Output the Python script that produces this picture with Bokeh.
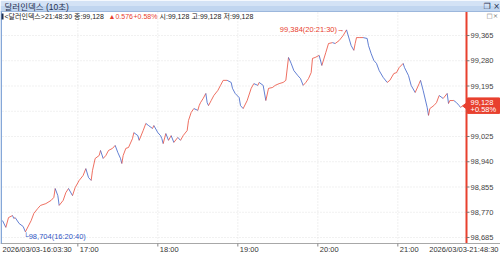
from bokeh.plotting import figure
from bokeh.models import Range1d
from bokeh.core.properties import value
from bokeh.embed import file_html
from bokeh.resources import INLINE

# ---------------- data ----------------
chart_title = "달러인덱스 (10초)"
instrument = "<달러인덱스>"
last_time = "21:48:30"
last_price = 99.128
change_abs = "▲0.576"
change_pct = "+0.58%"
open_price = 99.128
high_of_bar = 99.128
low_of_bar = 99.128

high_price, high_time = 99.384, "20:21:30"
low_price, low_time = 98.704, "16:20:40"

start_label = "2026/03/03-16:03:30"
end_label = "2026/03/03-21:48:30"
hour_labels = ["17:00", "18:00", "19:00", "20:00", "21:00"]

y_ticks = [98.685, 98.770, 98.855, 98.940, 99.025, 99.110, 99.195, 99.280, 99.365]
y_tick_labels = ["98,685", "98,770", "98,855", "98,940", "99,025", "", "99,195", "99,280", "99,365"]

times = ["16:03:30","16:06","16:08","16:11","16:12","16:13","16:16","16:19","16:20:40","16:25","16:27","16:30","16:32","16:36","16:40","16:42","16:43","16:45","16:46","16:49","16:51","16:53","16:56","16:58",
         "17:01","17:04","17:06","17:08","17:10","17:11","17:13","17:16","17:17","17:19","17:21","17:23","17:26","17:28","17:30","17:32","17:33","17:34","17:36","17:38","17:41","17:42","17:45","17:46","17:49","17:51","17:53","17:56","17:57",
         "18:00","18:02","18:03","18:04","18:06","18:08","18:10","18:12","18:15","18:17","18:19","18:22","18:23","18:25","18:27","18:30","18:31","18:32","18:34","18:36","18:37","18:38","18:40","18:42","18:45","18:47","18:49","18:52","18:55","18:56","18:58",
         "19:01","19:02","19:04","19:07","19:10","19:12","19:15","19:16","19:19","19:21","19:23","19:26","19:28","19:31","19:34","19:36","19:38","19:40","19:42","19:45","19:47","19:49","19:51","19:53","19:55","19:56","19:58",
         "20:01","20:03","20:06","20:08","20:11","20:13","20:16","20:19","20:21:30","20:25","20:27","20:28","20:29","20:31","20:34","20:37","20:38","20:40","20:42","20:44","20:46","20:49","20:52","20:54","20:57","20:59",
         "21:01","21:04","21:05","21:08","21:10","21:13","21:16","21:17","21:19","21:22","21:23","21:24","21:27","21:29","21:31","21:34","21:37","21:38","21:39","21:42","21:44","21:46","21:47","21:48:30"]

prices = [98.742, 98.719, 98.752, 98.759, 98.749, 98.752, 98.732, 98.722, 98.704, 98.742, 98.766, 98.783, 98.793, 98.799, 98.810, 98.820, 98.850, 98.826, 98.793, 98.810, 98.836, 98.850, 98.826, 98.853,
          98.877, 98.894, 98.917, 98.887, 98.877, 98.911, 98.951, 98.961, 98.978, 98.951, 98.961, 98.978, 98.985, 98.995, 98.971, 98.951, 98.934, 98.961, 98.985, 98.988, 99.018, 99.038, 99.028, 99.012, 99.045, 99.069, 99.062, 99.052, 99.062,
          99.038, 99.028, 99.018, 99.001, 99.035, 99.012, 99.028, 99.005, 99.022, 99.012, 99.028, 99.045, 99.079, 99.106, 99.119, 99.113, 99.129, 99.139, 99.153, 99.170, 99.139, 99.129, 99.146, 99.163, 99.180, 99.197, 99.214, 99.214, 99.207, 99.187, 99.170,
          99.156, 99.129, 99.119, 99.146, 99.187, 99.203, 99.197, 99.207, 99.197, 99.146, 99.187, 99.190, 99.197, 99.203, 99.207, 99.214, 99.291, 99.271, 99.247, 99.230, 99.220, 99.197, 99.207, 99.220, 99.240, 99.288, 99.291,
          99.298, 99.264, 99.308, 99.338, 99.341, 99.338, 99.348, 99.365, 99.384, 99.331, 99.315, 99.338, 99.358, 99.358, 99.358, 99.355, 99.331, 99.304, 99.281, 99.271, 99.247, 99.224, 99.207, 99.214, 99.237, 99.240,
          99.257, 99.271, 99.257, 99.230, 99.197, 99.173, 99.203, 99.214, 99.180, 99.123, 99.096, 99.119, 99.129, 99.139, 99.163, 99.153, 99.170, 99.136, 99.146, 99.146, 99.139, 99.129, 99.123, 99.128]


def tmin(s):
    parts = [float(v) for v in s.split(":")]
    while len(parts) < 3:
        parts.append(0.0)
    return parts[0] * 60 + parts[1] + parts[2] / 60.0


def kfmt(v):
    return f"{v:.3f}".replace(".", ",")


xs = [tmin(t) for t in times]
hour_x = [tmin(h) for h in hour_labels]

# ---------------- layout (screen calibration) ----------------
W, H = 500, 255
PLOT_L, AXIS_X, PLOT_T, PLOT_B = 2, 466, 12, 243
MIN_PER_PX = 0.75
UNITS_PER_PX = 0.085 / 25.25
REF_TICK, REF_PX = 99.365, 35


def px2x(px):
    return xs[0] + (px - PLOT_L) * MIN_PER_PX


def py2y(py):
    return REF_TICK - (py - REF_PX) * UNITS_PER_PX


def y2py(y):
    return REF_PX + (REF_TICK - y) / UNITS_PER_PX


FONT = "Liberation Sans, Noto Sans CJK KR"
RED = "#e8402e"
BLUE = "#2f55c4"
FS = "7.5px"

p = figure(width=W, height=H, x_range=Range1d(px2x(0), px2x(W)), y_range=Range1d(py2y(H), py2y(0)),
           x_axis_type=None, y_axis_type=None, output_backend="svg", toolbar_location=None,
           min_border=0, background_fill_color="white", border_fill_color="white",
           outline_line_color=None)

X_L, X_AX, X_R = px2x(PLOT_L), px2x(AXIS_X), px2x(W)
Y_T, Y_B = py2y(PLOT_T), py2y(PLOT_B)

# grid (faint dotted)
p.segment(x0=[X_L] * len(y_ticks), x1=[X_AX] * len(y_ticks), y0=y_ticks, y1=y_ticks,
          line_color="#e2e2e2", line_dash="1 2", line_width=1)
p.segment(x0=hour_x, x1=hour_x, y0=[Y_T] * len(hour_x), y1=[Y_B] * len(hour_x),
          line_color="#e2e2e2", line_dash="1 2", line_width=1)

# price path: up moves red, down moves blue
x0s, y0s, x1s, y1s, cols = [], [], [], [], []
for i in range(1, len(xs)):
    x0s.append(xs[i - 1]); y0s.append(prices[i - 1])
    x1s.append(xs[i]); y1s.append(prices[i])
    cols.append(RED if prices[i] >= prices[i - 1] else BLUE)
p.segment(x0=x0s, y0=y0s, x1=x1s, y1=y1s, line_color=cols, line_width=1, line_alpha=0.75)

# high / low annotations
p.text(x=[tmin(high_time)], y=[high_price], text=[f"{kfmt(high_price)}({high_time})→"],
       text_align="right", text_baseline="middle", x_offset=-2,
       text_font=value(FONT), text_font_size=FS, text_color=RED)
p.text(x=[tmin(low_time)], y=[low_price], text=[f"└{kfmt(low_price)}({low_time})"],
       text_align="left", text_baseline="middle", x_offset=-2, y_offset=5,
       text_font=value(FONT), text_font_size=FS, text_color=BLUE)

# ---- right price axis ----
p.segment(x0=[X_AX], x1=[X_AX], y0=[py2y(10)], y1=[Y_B], line_color=RED, line_width=2)
p.segment(x0=[X_AX] * len(y_ticks), x1=[px2x(AXIS_X + 3)] * len(y_ticks), y0=y_ticks, y1=y_ticks,
          line_color="#777777", line_width=1)
shown = [(t, l) for t, l in zip(y_ticks, y_tick_labels) if l]
p.text(x=[px2x(AXIS_X + 4)] * len(shown), y=[t for t, _ in shown], text=[l for _, l in shown],
       text_align="left", text_baseline="middle", text_font=value(FONT), text_font_size=FS,
       text_color="#444444")

# ---- bottom time axis ----
p.segment(x0=[px2x(0)], x1=[X_R], y0=[Y_B], y1=[Y_B], line_color="#a8a8a8", line_width=1)
p.segment(x0=hour_x, x1=hour_x, y0=[Y_B] * len(hour_x), y1=[py2y(PLOT_B + 3)] * len(hour_x),
          line_color="#888888", line_width=1)
lab_y = py2y(249)
p.text(x=[xs[0]] + hour_x, y=[lab_y] * (1 + len(hour_x)), text=[start_label] + hour_labels,
       text_align="left", text_baseline="middle", x_offset=[0] + [2] * len(hour_x),
       text_font=value(FONT), text_font_size=FS, text_color="#333333")
p.text(x=[px2x(498)], y=[lab_y], text=[end_label], text_align="right", text_baseline="middle",
       text_font=value(FONT), text_font_size=FS, text_color="#333333")

# ---- last price tag ----
tag_py = y2py(last_price)
p.quad(left=[px2x(467)], right=[px2x(499)], top=[py2y(tag_py - 8)], bottom=[py2y(tag_py + 7.5)],
       fill_color=RED, line_color=RED)
p.patch(x=[px2x(462), px2x(467.5), px2x(467.5)], y=[last_price, py2y(tag_py - 4), py2y(tag_py + 4)],
        fill_color=RED, line_color=RED)
p.text(x=[px2x(470)] * 2, y=[py2y(tag_py - 3.8), py2y(tag_py + 3.8)],
       text=[kfmt(last_price), change_pct], text_align="left", text_baseline="middle",
       text_font=value(FONT), text_font_size=FS, text_color="white")

# ---- window chrome: title bar, left strip, small buttons ----
p.quad(left=[px2x(0)], right=[X_R], top=[py2y(0)], bottom=[py2y(5.5)], fill_color="#d3e2f5", line_color=None)
p.quad(left=[px2x(0)], right=[X_R], top=[py2y(5.5)], bottom=[py2y(11)], fill_color="#c0d5ef", line_color=None)
p.segment(x0=[px2x(0)], x1=[X_R], y0=[py2y(11)], y1=[py2y(11)], line_color="#9cb7dc", line_width=1)
p.text(x=[px2x(4)], y=[py2y(6)], text=[chart_title], text_align="left", text_baseline="middle",
       text_font=value(FONT), text_font_size="8.5px", text_color="#1f2f4f")
p.text(x=[px2x(483)], y=[py2y(6)], text=["❐ ×"], text_align="left", text_baseline="middle",
       text_font=value("DejaVu Sans"), text_font_size="8px", text_color="#1f2f4f")
p.text(x=[px2x(486)], y=[py2y(15.5)], text=["□×"], text_align="left", text_baseline="middle",
       text_font=value("DejaVu Sans"), text_font_size="6.5px", text_color="#777777")
p.segment(x0=[px2x(0.7)], x1=[px2x(0.7)], y0=[py2y(11)], y1=[Y_B], line_color="#7fa3d6", line_width=1.5)
p.quad(left=[px2x(1)], right=[px2x(3)], top=[py2y(13)], bottom=[py2y(19)], fill_color="#1f2f4f", line_color=None)

# ---- info row ----
info_parts = [
    (4, f"{instrument}{last_time} 종:{kfmt(last_price)}", "#222222"),
    (108, change_abs, RED),
    (133, change_pct, RED),
    (159, f"시:{kfmt(open_price)}", "#222222"),
    (191, f"고:{kfmt(high_of_bar)}", "#222222"),
    (223, f"저:{kfmt(low_of_bar)}", "#222222"),
]
p.text(x=[px2x(px) for px, _, _ in info_parts], y=[py2y(16)] * len(info_parts),
       text=[t for _, t, _ in info_parts], text_color=[c for _, _, c in info_parts],
       text_align="left", text_baseline="middle", text_font=value(FONT), text_font_size="7px")

open("out.html", "w").write(file_html(p, INLINE))
